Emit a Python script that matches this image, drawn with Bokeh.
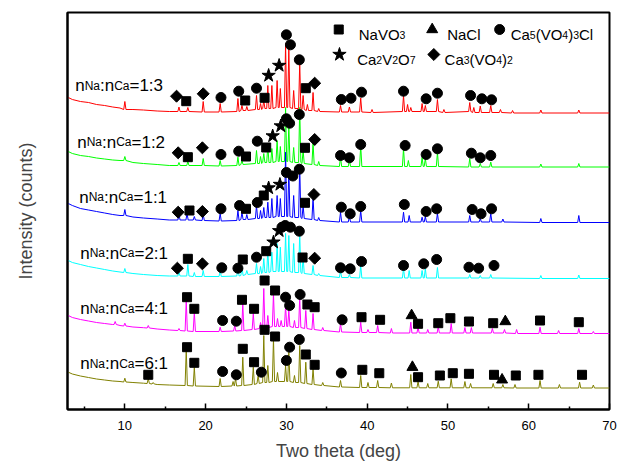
import math
from bokeh.plotting import figure
from bokeh.models import Range1d, FixedTicker, ColumnDataSource
from bokeh.embed import file_html
from bokeh.resources import INLINE
from bokeh.core.properties import value

# ---------------- data ----------------
x_major_ticks = [10, 20, 30, 40, 50, 60, 70]
x_minor_ticks = [5, 15, 25, 35, 45, 55, 65]

ratios = ["1:3", "1:2", "1:1", "2:1", "4:1", "6:1"]
colors = ["#FF0000", "#00FF00", "#0000FF", "#00FFFF", "#FF00FF", "#808000"]

# background (shared 2-theta positions), intensity per sample (offset stacked)
bg_x = [3, 3.5, 4.5, 5.5, 6.5, 7.5, 8.5, 9.4, 11, 12.3, 14, 15.5, 70]
bg_13 = [312, 310, 308, 307, 305, 304, 302.5, 301.5, 300, 299.5, 298.5, 298, 296.5]
bg_12 = [258, 256, 254, 253, 251.5, 250.5, 249.5, 249, 247, 246, 245, 244, 242.5]
bg_11 = [206, 204, 201, 199.5, 198, 196.5, 195, 194, 192.5, 191.5, 190.5, 189.5, 187]
bg_21 = [149, 147, 145, 143, 141.5, 140, 138.5, 137.5, 136, 135, 134, 133.5, 131]
bg_41 = [94, 92, 90, 88.5, 87, 86, 85, 84, 82.5, 81.8, 80.5, 79.5, 76]
bg_61 = [37.3, 35.5, 33.5, 32, 30.5, 29.5, 28.5, 28, 27, 26.3, 25, 24.5, 21.5]

# peaks: position (deg), top intensity, local base intensity
pk_13_pos = [10.0, 16.7, 17.8, 19.7, 21.8, 24.0, 24.5, 25.1, 26.3, 26.8, 27.2, 27.7, 28.2, 28.85, 29.25, 29.9, 30.3, 30.9, 31.65, 32.07, 32.6, 33.3, 34.0, 36.7, 37.8, 39.2, 40.6, 44.5, 45.0, 45.4, 46.8, 47.2, 48.7, 49.5, 52.7, 53.2, 54.0, 55.3, 56.5, 58.0, 61.5, 66.2]
pk_13_top = [308, 302.5, 302, 308, 306, 311, 304, 303, 314, 306, 309, 324, 324, 329, 321, 366, 362, 319, 347, 314, 305, 317, 301, 304, 302.5, 311.5, 300, 314, 305, 302, 306, 304, 310, 300, 307, 302, 303.5, 304, 300, 299, 299.5, 299.5]
pk_13_base = [300, 298, 298, 297.5, 297.5, 298, 299, 299, 300, 300, 301, 301, 301, 302, 302, 302, 302, 301, 301, 300, 299, 299, 298, 297.5, 297.5, 297.5, 297, 298, 298, 298, 298, 298, 298, 297, 298, 297, 297, 297, 297, 296.5, 296.5, 296.5]

pk_12_pos = [10.0, 16.7, 17.8, 19.7, 21.8, 24.0, 24.5, 26.3, 26.8, 27.2, 27.7, 28.2, 28.85, 29.25, 29.9, 30.3, 30.9, 31.65, 32.07, 33.3, 34.0, 36.7, 37.8, 39.2, 44.5, 45.1, 46.8, 47.2, 48.7, 52.7, 54.0, 55.3, 61.5, 66.2]
pk_12_top = [253, 247, 248, 251, 249, 252.3, 249, 259, 253, 256, 264, 261, 269, 263, 302, 284, 262, 302, 259, 267, 248, 252.3, 250, 264, 261, 249, 252, 251, 257, 251, 246, 247.5, 245.5, 246]
pk_12_base = [249, 244, 244, 244, 243.5, 244, 245, 246, 246, 247, 247, 247, 248, 248, 248, 248, 247, 247, 246, 245, 244, 243, 243, 243, 243, 243, 243, 243, 243, 242.5, 242.5, 242.5, 242.5, 242.5]

pk_11_pos = [10.0, 16.7, 17.7, 18.6, 19.7, 21.8, 24.0, 24.5, 25.1, 26.3, 26.8, 27.2, 27.7, 28.2, 28.85, 29.25, 29.9, 30.3, 30.9, 31.65, 32.07, 33.3, 34.0, 36.7, 37.8, 39.2, 44.5, 45.2, 46.8, 47.2, 48.7, 52.7, 54.0, 55.3, 56.8, 61.5, 66.2]
pk_11_top = [200, 195, 196, 193, 195, 196, 199, 197, 195, 204, 199, 202, 207.3, 211, 214, 211, 257.3, 241, 214, 244, 204, 212, 192, 197.3, 193, 199, 197.3, 194, 192.3, 193, 196, 194, 191, 196, 190.5, 191, 194]
pk_11_base = [194, 189.5, 189.5, 189.5, 189, 188.5, 189, 190, 190, 191, 191, 192, 192, 192, 193, 193, 193, 193, 192, 192, 191, 190, 189, 187.5, 187.5, 187.5, 187.5, 187.5, 187.5, 187.5, 187.5, 187.5, 187.5, 187.5, 187.5, 187, 187]

pk_21_pos = [10.0, 16.7, 17.8, 18.6, 19.7, 21.8, 24.0, 24.5, 25.1, 26.3, 26.8, 27.2, 27.7, 28.2, 28.85, 29.25, 29.9, 30.3, 30.9, 31.65, 32.07, 33.3, 34.0, 36.7, 37.8, 39.2, 44.5, 45.2, 46.8, 47.2, 48.7, 52.7, 54.0, 55.3, 61.5, 66.2]
pk_21_top = [141, 137, 145, 137, 139, 139, 141, 142.3, 139, 146, 143, 151, 159, 157.3, 166, 162.3, 176, 174, 166, 176, 152.3, 144, 136, 139, 135, 144, 141, 139, 139, 141, 142, 135, 134, 135, 134, 134.5]
pk_21_base = [137, 133.5, 133.5, 133, 133, 133, 133.5, 134, 135, 136, 136, 137, 137, 138, 138, 138, 138, 138, 137, 137, 136, 135, 134, 132, 132, 131.5, 131.5, 131.5, 131.5, 131.5, 131.5, 131.5, 131.5, 131.5, 131, 131]

pk_41_pos = [8.8, 10.0, 12.9, 16.7, 17.6, 18.6, 21.8, 23.6, 24.6, 25.9, 26.8, 27.2, 27.7, 28.4, 28.9, 29.35, 29.9, 30.3, 31.0, 31.65, 32.4, 33.3, 34.5, 36.7, 39.2, 40.1, 41.3, 43.0, 45.4, 46.3, 47.5, 48.8, 50.4, 52.1, 52.9, 55.5, 57.0, 58.5, 61.4, 63.7, 66.2, 68.0]
pk_41_top = [88, 86.3, 84, 81, 109, 97.3, 82.3, 84, 106, 96, 87, 121, 94, 116, 91, 89, 104, 99, 89, 112.3, 99, 96, 82, 86, 87.3, 80, 84, 81, 87.3, 82.3, 80, 83, 86, 82, 82, 81, 80, 80, 82.3, 79, 81, 78]
pk_41_base = [85, 83.5, 81.5, 79, 78.5, 78, 78, 78.5, 79, 80, 81, 82, 82, 83, 83, 83, 83, 83, 82, 82, 81, 80, 79, 77.5, 77, 77, 77, 76.5, 76.5, 76.5, 76.5, 76.5, 76.5, 76.5, 76.5, 76.5, 76.5, 76, 76, 76, 76, 76]

pk_61_pos = [10.0, 12.9, 13.5, 17.6, 18.6, 21.8, 23.4, 23.7, 24.6, 25.9, 26.5, 27.2, 27.7, 28.4, 28.9, 29.9, 30.3, 31.0, 31.65, 32.4, 33.3, 34.5, 36.7, 39.2, 40.1, 41.3, 43.0, 45.4, 46.3, 47.5, 48.8, 50.4, 52.1, 52.8, 55.6, 56.8, 58.3, 61.4, 63.8, 66.3, 68.0]
pk_61_top = [31.3, 31, 27, 60.7, 42.3, 31, 28, 31, 52.3, 42.3, 34, 74, 44, 71, 37, 44, 57.3, 34, 64, 47.3, 40.7, 27, 29, 34, 27, 29, 26.5, 35, 28, 26, 28.3, 30.7, 28, 26, 26, 25, 25, 29, 25, 27.3, 24.5]
pk_61_base = [27.5, 26, 25.5, 24, 23.5, 23, 23.5, 23.5, 24, 25, 26, 27, 27, 28, 28, 28, 28, 27, 27, 26, 25, 24, 22.5, 22, 22, 22, 21.7, 21.7, 21.7, 21.7, 21.7, 21.7, 21.7, 21.7, 21.7, 21.7, 21.5, 21.5, 21.5, 21.5, 21.5]

# phase markers: S=NaVO3, T=NaCl, C=Ca5(VO4)3Cl, R=Ca2V2O7, D=Ca3(VO4)2
mk_13_x = [16.4, 17.6, 19.7, 21.9, 24.1, 24.9, 26.3, 27.3, 27.8, 29.1, 30.0, 30.5, 31.6, 32.4, 33.5, 36.8, 38.0, 39.3, 44.5, 47.3, 48.7, 52.8, 54.2, 55.4]
mk_13_y = [313.3, 308.3, 315.7, 312, 318.3, 309, 321.3, 311.7, 334, 344, 374.7, 364.7, 349.7, 321.3, 326.3, 310, 311.3, 317.3, 318.3, 310.7, 316.3, 314, 310.7, 309.7]
mk_13_ph = list("DSDCCSCSRRCCCSDCCCCCCCCC")

mk_12_x = [16.6, 17.8, 19.6, 21.9, 24.1, 25.0, 26.4, 27.5, 28.3, 29.3, 30.0, 30.4, 31.6, 32.3, 33.5, 36.7, 37.8, 39.2, 44.7, 47.3, 48.7, 52.9, 54.0, 55.3]
mk_12_y = [256.7, 252.3, 261.7, 255, 258.3, 253, 268.3, 262, 273.5, 283.5, 290.7, 286.3, 295, 261.7, 270, 254, 251.7, 265, 264, 255, 260.7, 256.3, 251.7, 254]
mk_12_ph = list("DSDCCSCSRRCCCSDCCCCCCCCC")

mk_11_x = [16.6, 18.0, 19.6, 21.9, 24.2, 25.0, 26.4, 27.2, 27.8, 29.2, 30.0, 30.8, 31.6, 32.3, 33.4, 36.8, 37.9, 39.2, 44.6, 47.3, 48.6, 53.0, 54.1, 55.4]
mk_11_y = [197.3, 199, 198, 200.7, 204, 200.7, 207, 214, 221.5, 225, 237, 233.5, 240.3, 206.7, 215, 202.3, 195.7, 203, 205, 198, 200.7, 200, 195.7, 200.7]
mk_11_ph = list("DSDCCSCSRRCCCSDCCCCCCCCC")

mk_21_x = [16.5, 17.8, 19.6, 22.0, 24.0, 24.6, 26.3, 27.5, 28.4, 29.1, 29.45, 29.85, 30.5, 31.6, 32.0, 33.5, 36.7, 37.9, 39.3, 44.5, 47.0, 48.6, 52.6, 53.8, 55.7]
mk_21_y = [141.3, 150.7, 145.7, 141.7, 141.3, 150, 152.3, 158.3, 167.3, 178.7, 182.3, 184, 182.3, 178.3, 152, 151.3, 141.7, 140.7, 148, 144, 145.7, 150, 142.3, 141.3, 144]
mk_21_ph = list("DSDCCSCSRRCCCCSDCCCCCCCCC")

mk_41_x = [17.7, 18.6, 22.1, 23.8, 24.5, 26.0, 27.3, 28.6, 29.9, 30.4, 31.7, 32.6, 33.5, 36.9, 39.3, 41.6, 45.5, 46.3, 48.8, 50.3, 52.6, 55.6, 57.1, 61.4, 66.2]
mk_41_y = [112.3, 100.7, 89, 88.3, 109.7, 100.7, 129, 119, 112.3, 104, 115, 105, 102.3, 89.7, 92.3, 89.7, 94, 85.7, 86.3, 91.3, 88, 86.3, 88, 89, 87.3]
mk_41_ph = list("SSCCSSSSCCCSSCSSTSSSSSTSS")

mk_61_x = [12.9, 17.7, 18.6, 22.1, 23.8, 24.6, 26.0, 26.9, 27.3, 28.6, 30.0, 30.4, 31.6, 32.4, 33.5, 36.8, 39.4, 41.5, 45.6, 46.3, 49.0, 50.6, 52.6, 55.7, 56.7, 58.4, 61.2, 66.6]
mk_61_y = [34.7, 62.3, 46.7, 38, 34.7, 60.7, 47.3, 37.3, 79.7, 73, 49, 62.3, 70, 55, 44.7, 36.5, 39.7, 36.3, 42.3, 32.3, 34, 36.3, 35.7, 34.7, 29.7, 34, 34.7, 34.7]
mk_61_ph = list("SSSCCSSCSSCCCSSCSSTSSSSSTSSS")

phase_codes = ["S", "T", "C", "R", "D"]
phase_names = [
    [("NaVO", 0), ("3", 1)],
    [("NaCl", 0)],
    [("Ca", 0), ("5", 1), ("(VO", 0), ("4", 1), (")", 0), ("3", 1), ("Cl", 0)],
    [("Ca", 0), ("2", 1), ("V", 0), ("2", 1), ("O", 0), ("7", 1)],
    [("Ca", 0), ("3", 1), ("(VO", 0), ("4", 1), (")", 0), ("2", 1)],
]

backgrounds = [bg_13, bg_12, bg_11, bg_21, bg_41, bg_61]
peaks = [
    (pk_13_pos, pk_13_top, pk_13_base), (pk_12_pos, pk_12_top, pk_12_base),
    (pk_11_pos, pk_11_top, pk_11_base), (pk_21_pos, pk_21_top, pk_21_base),
    (pk_41_pos, pk_41_top, pk_41_base), (pk_61_pos, pk_61_top, pk_61_base),
]
markers = [
    (mk_13_x, mk_13_y, mk_13_ph), (mk_12_x, mk_12_y, mk_12_ph),
    (mk_11_x, mk_11_y, mk_11_ph), (mk_21_x, mk_21_y, mk_21_ph),
    (mk_41_x, mk_41_y, mk_41_ph), (mk_61_x, mk_61_y, mk_61_ph),
]

# ---------------- style / layout ----------------
FONT = "Liberation Sans"
HALF_W = 0.14
MARKER_STYLE = {
    "S": ("square", 9, 0.0),
    "T": ("triangle", 11, 0.0),
    "C": ("circle", 10, 0.0),
    "R": ("star", 14, 0.0),
    "D": ("square", 8.5, math.pi / 4),
}
ARIAL = {"N": 722, "a": 556, "V": 667, "O": 778, "C": 722, "l": 222, "(": 333, ")": 333,
         "n": 556, ":": 278, "=": 584}
for d in "0123456789":
    ARIAL[d] = 556

label_pos_x = [3.85, 4.1, 4.35, 4.47, 4.47, 4.47]
label_pos_y = [324, 267.3, 212.3, 156.3, 100.7, 45.7]
legend_marker_x = [36.48, 48.05, 56.4, 36.57, 48.25]
legend_marker_y = [380, 380, 380, 355, 355]
legend_text_x = [38.96, 49.9, 57.76, 38.76, 49.58]
legend_text_y = [374.8, 374.8, 374.8, 349.8, 349.8]

p = figure(width=618, height=465, x_range=Range1d(2.9, 70), y_range=Range1d(0, 397),
           output_backend="svg", toolbar_location=None,
           min_border_left=67, min_border_right=9, min_border_top=12, min_border_bottom=56)
p.background_fill_color = "white"
p.border_fill_color = "white"
p.outline_line_color = "black"
p.outline_line_width = 2
p.xgrid.visible = False
p.ygrid.visible = False

xa = p.xaxis[0]
xa.ticker = FixedTicker(ticks=x_major_ticks, minor_ticks=x_minor_ticks)
xa.axis_line_width = 2
xa.major_tick_in = 6
xa.major_tick_out = 0
xa.minor_tick_in = 3
xa.minor_tick_out = 0
xa.major_tick_line_width = 1.5
xa.minor_tick_line_width = 1.5
xa.major_label_text_font = FONT
xa.major_label_text_font_size = "13px"
xa.major_label_text_color = "black"
xa.major_label_standoff = 11
xa.axis_label = "Two theta (deg)"
xa.axis_label_text_font = FONT
xa.axis_label_text_font_size = "18px"
xa.axis_label_text_font_style = "normal"
xa.axis_label_standoff = 8

ya = p.yaxis[0]
ya.ticker = FixedTicker(ticks=[])
ya.axis_line_width = 2
ya.major_tick_line_color = None
ya.minor_tick_line_color = None
ya.axis_label = "Intensity (counts)"
ya.axis_label_text_font = FONT
ya.axis_label_text_font_size = "18px"
ya.axis_label_text_font_style = "normal"
ya.axis_label_standoff = 32


def rich_text(x, y, parts, main, sub):
    xs, ys, ts, offs, sizes = [], [], [], [], []
    off = 0.0
    for s, is_sub in parts:
        fs = sub if is_sub else main
        xs.append(x)
        ys.append(y)
        ts.append(s)
        offs.append(off)
        sizes.append(f"{fs}px")
        off += sum(ARIAL.get(c, 556) for c in s) / 1000.0 * fs
    src = ColumnDataSource(dict(x=xs, y=ys, text=ts, xo=offs, fs=sizes))
    p.text(x="x", y="y", text="text", x_offset="xo", text_font_size="fs", source=src,
           text_font=value(FONT), text_baseline="alphabetic", text_align="left",
           text_color="black")


def marker_source(xs, ys, phs):
    return ColumnDataSource(dict(
        x=xs, y=ys,
        marker=[MARKER_STYLE[c][0] for c in phs],
        size=[MARKER_STYLE[c][1] for c in phs],
        angle=[MARKER_STYLE[c][2] for c in phs],
    ))


for i in range(len(ratios)):
    pos, top, base = peaks[i]
    pts = list(zip(bg_x, backgrounds[i]))
    for x0, t, b in zip(pos, top, base):
        pts += [(x0 - HALF_W, b), (x0, t), (x0 + HALF_W, b)]
    pts.sort()
    p.line([q[0] for q in pts], [q[1] for q in pts], line_color=colors[i], line_width=1)

for i in range(len(ratios)):
    mx, my, mph = markers[i]
    p.scatter(x="x", y="y", marker="marker", size="size", angle="angle",
              source=marker_source(mx, my, mph), fill_color="black", line_color="black")

for i, r in enumerate(ratios):
    parts = [("n", 0), ("Na", 1), (":", 0), ("n", 0), ("Ca", 1), ("=" + r, 0)]
    rich_text(label_pos_x[i], label_pos_y[i], parts, 17, 12)

p.scatter(x="x", y="y", marker="marker", size="size", angle="angle",
          source=marker_source(legend_marker_x, legend_marker_y, phase_codes),
          fill_color="black", line_color="black")
for i, parts in enumerate(phase_names):
    rich_text(legend_text_x[i], legend_text_y[i], parts, 15, 10.5)

open("out.html", "w").write(file_html(p, INLINE))
